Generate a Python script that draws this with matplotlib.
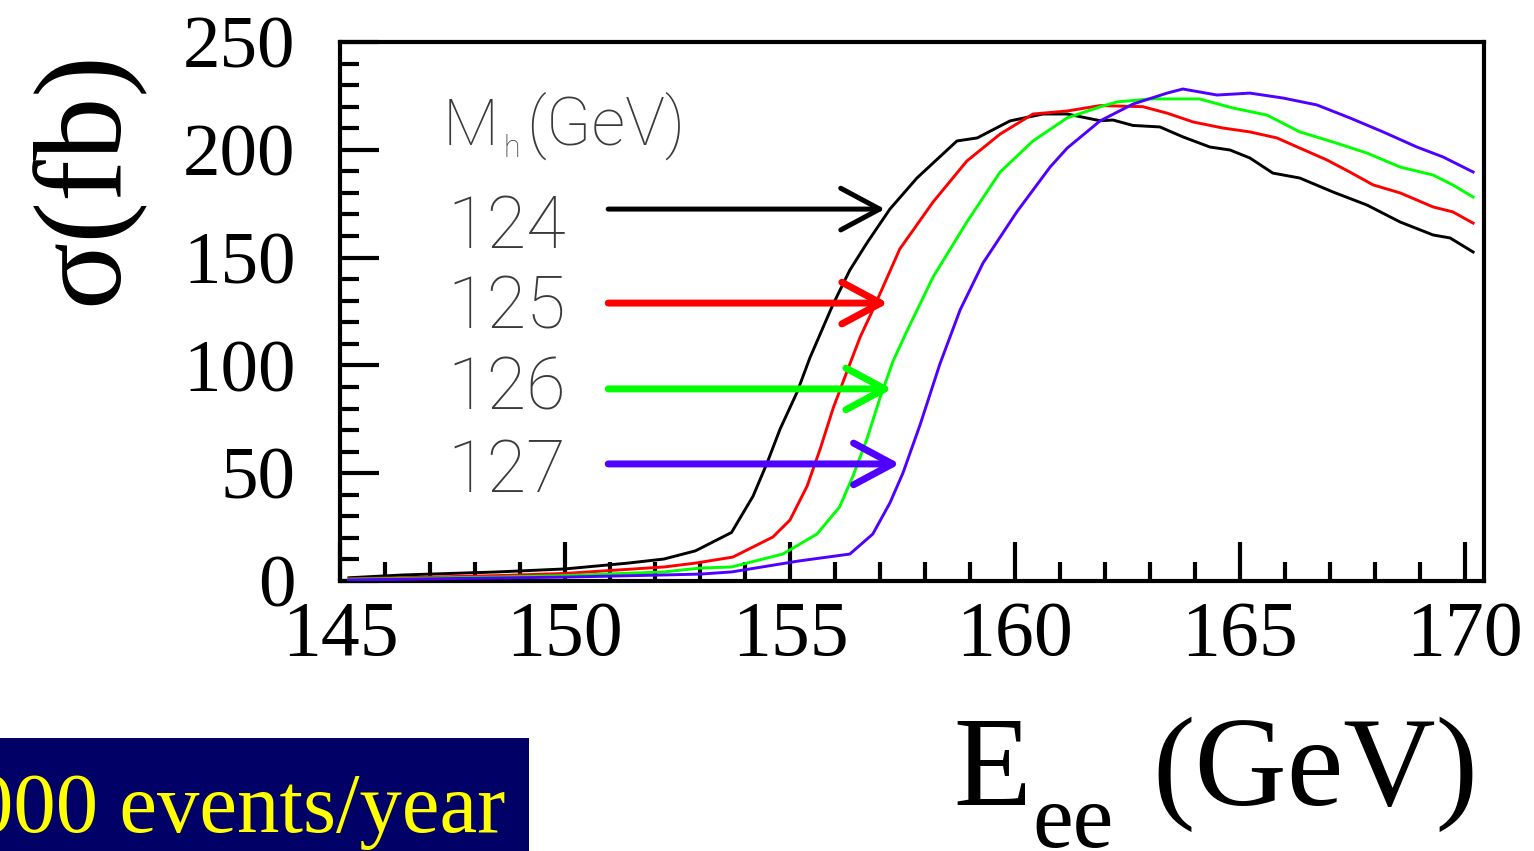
import matplotlib
matplotlib.use("Agg")
import matplotlib.pyplot as plt
from matplotlib.ticker import MultipleLocator
from matplotlib.patches import Rectangle

# ---------------- data ----------------
x124 = [145.2, 146.4, 148.5, 150.0, 151.4, 152.2, 152.9, 153.7, 154.18, 154.49, 154.78, 155.16,
        155.44, 155.96, 156.33, 156.71, 157.22, 157.82, 158.71, 159.16, 159.89, 160.62, 161.16,
        161.89, 162.18, 162.62, 163.22, 163.73, 164.33, 164.78, 165.22, 165.73, 166.33, 167.07,
        167.82, 168.56, 169.29, 169.67, 170.18]
y124 = [1.5, 2.8, 4.2, 5.6, 8.3, 10.2, 14.0, 22.5, 39.4, 54.7, 70.5, 87.7,
        103.4, 128.5, 144.2, 156.8, 172.5, 186.9, 204.1, 205.5, 213.4, 216.6, 216.6,
        213.5, 213.8, 211.3, 210.6, 206.0, 201.3, 199.9, 196.2, 189.2, 186.9, 180.4,
        174.4, 166.5, 160.5, 159.1, 152.6]

x125 = [145.2, 148.5, 150.0, 152.2, 152.9, 153.73, 154.62, 155.0, 155.38, 155.67, 155.96, 156.27,
        156.56, 156.84, 157.44, 158.18, 158.93, 159.67, 160.4, 161.16, 161.89, 162.84, 163.38,
        163.96, 164.62, 165.22, 165.82, 166.33, 166.93, 167.44, 167.96, 168.56, 169.29, 169.73,
        170.18]
y125 = [1.0, 2.5, 3.5, 6.5, 8.3, 11.1, 20.4, 28.3, 44.0, 61.2, 80.2, 97.4,
        113.2, 125.7, 154.0, 175.8, 194.8, 207.3, 216.6, 218.0, 220.5, 220.0, 217.0,
        212.9, 210.1, 208.3, 205.5, 200.8, 195.3, 189.7, 183.7, 180.0, 173.5, 171.2,
        166.0]

x126 = [145.2, 148.5, 150.0, 152.2, 153.0, 153.7, 154.84, 155.6, 156.1, 156.4, 156.71, 157.0,
        157.29, 157.6, 158.18, 158.93, 159.67, 160.4, 161.16, 161.89, 162.27, 163.0, 164.1,
        164.84, 165.6, 166.33, 167.07, 167.82, 168.56, 169.29, 169.73, 170.18]
y126 = [0.8, 1.8, 2.5, 4.2, 6.0, 6.5, 12.5, 21.8, 34.3, 48.7, 65.9, 84.9,
        102.0, 116.0, 141.0, 166.5, 189.7, 204.1, 214.8, 219.9, 222.2, 223.6, 223.6,
        219.4, 216.1, 208.3, 203.6, 198.5, 192.0, 188.3, 183.7, 178.1]

x127 = [145.2, 148.5, 150.0, 152.2, 153.0, 153.7, 155.2, 156.33, 156.84, 157.22, 157.51, 157.89,
        158.33, 158.78, 159.29, 160.04, 160.78, 161.16, 161.89, 162.62, 163.38, 163.73, 164.49,
        165.22, 165.96, 166.71, 167.44, 168.18, 168.93, 169.51, 170.18]
y127 = [0.5, 1.4, 1.8, 2.8, 3.2, 4.2, 9.3, 12.5, 21.8, 36.2, 50.1, 72.4,
        100.6, 125.7, 147.5, 171.2, 192.0, 200.8, 213.4, 221.2, 226.3, 228.2, 225.4,
        226.3, 224.0, 220.8, 214.8, 208.3, 201.3, 196.7, 189.7]

masses = ["124", "125", "126", "127"]
colors = ["#000000", "#ff0000", "#00ff00", "#5000ff"]
arrow_y = [172.5, 128.9, 89.1, 54.3]
arrow_start_x = [150.96, 150.96, 150.96, 150.96]
arrow_tip_x = [157.11, 157.18, 157.27, 157.44]
arrow_lw = [3.6, 5.0, 5.0, 5.0]

xticks = [145, 150, 155, 160, 165, 170]
yticks = [0, 50, 100, 150, 200, 250]

# ---------------- figure ----------------
W, H = 1534, 851
fig = plt.figure(figsize=(W / 100, H / 100), dpi=100)
fig.patch.set_facecolor("white")
ax = fig.add_axes([340 / W, 1 - 581 / H, (1484 - 340) / W, (581 - 42) / H])

series_x = [x124, x125, x126, x127]
series_y = [y124, y125, y126, y127]
for xs, ys, c in zip(series_x, series_y, colors):
    ax.plot(xs, ys, color=c, lw=2.1, solid_joinstyle="round", zorder=3)

for ay, sx, tx, c, lw in zip(arrow_y, arrow_start_x, arrow_tip_x, colors, arrow_lw):
    ax.annotate("", xy=(tx, ay), xytext=(sx, ay),
                arrowprops=dict(arrowstyle="->,head_length=28,head_width=15",
                                mutation_scale=1, color=c, lw=lw,
                                shrinkA=0, shrinkB=0),
                zorder=4)

ax.set_xlim(145, 145 + (1484 - 340) / 45.0)
ax.set_ylim(0, 250)
ax.set_xticks(xticks)
ax.set_yticks(yticks)
ax.xaxis.set_minor_locator(MultipleLocator(1))
ax.yaxis.set_minor_locator(MultipleLocator(10))
ax.tick_params(which="major", direction="in", length=28, width=3, top=False, right=False)
ax.tick_params(which="minor", direction="in", length=14, width=3, top=False, right=False)
ax.tick_params(axis="y", which="major", pad=32)
ax.tick_params(axis="x", which="major", pad=14)
for s in ax.spines.values():
    s.set_linewidth(3)
for lab in ax.get_xticklabels():
    lab.set_fontfamily("Liberation Serif")
    lab.set_fontsize(56)
for lab in ax.get_yticklabels():
    lab.set_fontfamily("Liberation Serif")
    lab.set_fontsize(54)

# legend-style labels
lab_kw = dict(family="Roboto", fontweight="light", color="#3a3a3a", transform=fig.transFigure)
fig.text(443 / W, 1 - 145 / H, "M", fontsize=47, va="baseline", ha="left", **lab_kw)
fig.text(503 / W, 1 - 157 / H, "h", fontsize=22, va="baseline", ha="left", **lab_kw)
fig.text(526 / W, 1 - 145 / H, "(GeV)", fontsize=48, va="baseline", ha="left", **lab_kw)
label_baselines = [248, 329, 410, 492]
for m, b in zip(masses, label_baselines):
    fig.text(447 / W, 1 - b / H, m, fontsize=52, va="baseline", ha="left", **lab_kw)

# y axis label
fig.text(86 / W, 1 - 178 / H, "σ(fb)", rotation=90, ha="center", va="center",
         family="Liberation Serif", fontsize=90)

# x axis label
fig.text(953 / W, 1 - 805 / H, "E", family="Liberation Serif", fontsize=92,
         ha="left", va="baseline")
fig.text(1032 / W, 1 - 847 / H, "ee", family="Liberation Serif", fontsize=66,
         ha="left", va="baseline")
fig.text(1152 / W, 1 - 805 / H, "(GeV)", family="Liberation Serif", fontsize=92,
         ha="left", va="baseline")

# bottom-left banner
fig.patches.append(Rectangle((0, 0), 529 / W, (851 - 738) / H, transform=fig.transFigure,
                             facecolor="#000066", edgecolor="none", zorder=0))
fig.text(505 / W, 1 - 832 / H, "000 events/year", family="Liberation Serif", fontsize=61,
         color="#ffff00", ha="right", va="baseline")

fig.savefig("out.png", dpi=100)
